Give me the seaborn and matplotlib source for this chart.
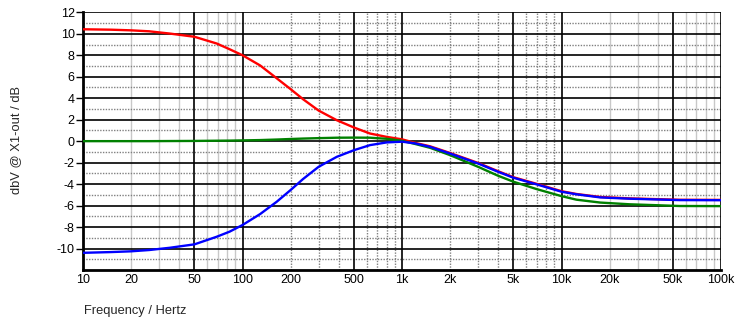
import numpy as np
import pandas as pd
import matplotlib
matplotlib.use("Agg")
import matplotlib.pyplot as plt
import seaborn as sns
from matplotlib.ticker import FixedLocator, NullFormatter, NullLocator

freq = [10, 15, 20, 26, 35, 50, 69, 83, 100, 129, 164, 200, 240, 300, 390, 500, 630,
        800, 1000, 1200, 1500, 2000, 3000, 4000, 5000, 7000, 10000, 12400, 17500,
        26700, 55000, 100000]
red = [10.42, 10.38, 10.32, 10.23, 10.02, 9.72, 9.09, 8.56, 8.0, 7.05, 5.85, 4.85, 3.9,
       2.85, 1.95, 1.27, 0.71, 0.4, 0.17, -0.15, -0.48, -1.1, -2.03, -2.8, -3.36, -3.98,
       -4.66, -4.92, -5.2, -5.33, -5.46, -5.47]
blue = [-10.4, -10.33, -10.26, -10.14, -9.93, -9.61, -8.9, -8.43, -7.81, -6.79, -5.64,
        -4.56, -3.52, -2.39, -1.46, -0.84, -0.37, -0.12, -0.05, -0.2, -0.53, -1.15, -2.08,
        -2.85, -3.41, -4.03, -4.71, -4.95, -5.24, -5.36, -5.49, -5.5]
green = [0.0, 0.0, 0.0, 0.0, 0.01, 0.02, 0.04, 0.05, 0.07, 0.1, 0.15, 0.2, 0.24, 0.28,
         0.32, 0.33, 0.32, 0.22, 0.03, -0.25, -0.62, -1.3, -2.39, -3.22, -3.78, -4.47,
         -5.12, -5.45, -5.72, -5.88, -6.04, -6.05]

xtick_vals = [10, 20, 50, 100, 200, 500, 1000, 2000, 5000, 10000, 20000, 50000, 100000]
xtick_labels = ["10", "20", "50", "100", "200", "500", "1k", "2k", "5k", "10k", "20k", "50k", "100k"]
ytick_vals = list(range(-10, 13, 2))

df = pd.DataFrame({
    "freq": freq * 3,
    "value": red + green + blue,
    "series": ["red"] * len(freq) + ["green"] * len(freq) + ["blue"] * len(freq),
})

sns.set_style("white")
plt.rcParams["font.family"] = ["Liberation Sans", "DejaVu Sans"]

fig = plt.figure(figsize=(7.4, 3.27), dpi=100)
ax = fig.add_axes([83 / 740, 1 - 270 / 327, (721 - 83) / 740, (270 - 12.3) / 327])
ax.set_xscale("log")
ax.set_xlim(10, 100000)
ax.set_ylim(-12, 12)

# grid
major_v = [10, 50, 100, 500, 1000, 5000, 10000, 50000, 100000]
for dec in [10, 100, 1000, 10000]:
    for m in range(2, 10):
        v = dec * m
        if v in major_v:
            continue
        if dec in (100, 1000):
            ax.axvline(v, color="#808080", lw=1.0, ls=(0, (1, 1)), zorder=0)
        else:
            ax.axvline(v, color="#c8c8c8", lw=1.0, zorder=0)
for v in major_v:
    ax.axvline(v, color="black", lw=1.2, zorder=1)
for y in range(-11, 12, 2):
    ax.axhline(y, color="#808080", lw=1.0, ls=(0, (1, 1)), zorder=0)
for y in range(-10, 13, 2):
    ax.axhline(y, color="black", lw=1.2, zorder=1)

palette = {"red": "#ff0000", "green": "#008000", "blue": "#0000ff"}
sns.lineplot(data=df, x="freq", y="value", hue="series", palette=palette,
             linewidth=1.7, legend=False, ax=ax, zorder=3, estimator=None)

ax.xaxis.set_major_locator(FixedLocator(xtick_vals))
ax.set_xticklabels(xtick_labels)
ax.xaxis.set_minor_locator(NullLocator())
ax.xaxis.set_minor_formatter(NullFormatter())
ax.set_yticks(ytick_vals)
ax.set_yticklabels([str(v) for v in ytick_vals])

ax.tick_params(axis="x", length=0, pad=3, labelsize=9, colors="black")
ax.tick_params(axis="y", length=5, width=1, pad=1, labelsize=9, colors="black", left=True)

for side in ["left", "bottom"]:
    ax.spines[side].set_visible(True)
    ax.spines[side].set_color("black")
    ax.spines[side].set_linewidth(2)
for side in ["top", "right"]:
    ax.spines[side].set_visible(False)

ax.set_xlabel("")
ax.set_ylabel("")
fig.text(16 / 740, 1 - 140 / 327, "dbV @ X1-out / dB", rotation=90, ha="center",
         va="center", fontsize=9.3)
fig.text(84 / 740, 1 - 311 / 327, "Frequency / Hertz", ha="left", va="center",
         fontsize=9.3)

fig.savefig("out.png", dpi=100, facecolor="white")
